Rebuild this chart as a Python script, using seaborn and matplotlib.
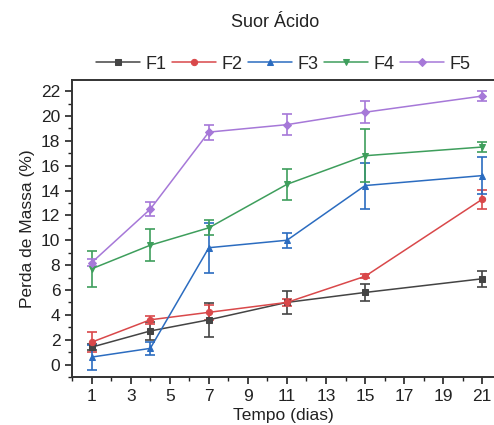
import matplotlib
matplotlib.use("Agg")
import matplotlib.pyplot as plt
import seaborn as sns
import pandas as pd
import numpy as np
from matplotlib.ticker import MultipleLocator

days = [1, 4, 7, 11, 15, 21]
series = ["F1", "F2", "F3", "F4", "F5"]
f1 = [1.4, 2.7, 3.6, 5.0, 5.8, 6.9]
f1_err = [0.25, 0.7, 1.35, 0.95, 0.7, 0.65]
f2 = [1.8, 3.6, 4.2, 5.0, 7.1, 13.3]
f2_err = [0.8, 0.3, 0.6, 0.3, 0.15, 0.75]
f3 = [0.6, 1.3, 9.4, 10.0, 14.4, 15.2]
f3_err = [1.0, 0.5, 2.0, 0.6, 1.85, 1.5]
f4 = [7.7, 9.6, 11.0, 14.5, 16.8, 17.5]
f4_err = [1.45, 1.3, 0.6, 1.25, 2.15, 0.4]
f5 = [8.2, 12.5, 18.7, 19.3, 20.3, 21.6]
f5_err = [0.3, 0.55, 0.6, 0.85, 0.9, 0.4]

values = [f1, f2, f3, f4, f5]
errors = [f1_err, f2_err, f3_err, f4_err, f5_err]
colors = ["#444444", "#d9484a", "#2b6cc0", "#3e9e5c", "#a678d8"]
markers = ["s", "o", "^", "v", "D"]

rows = []
for name, vals, errs in zip(series, values, errors):
    for d, v, e in zip(days, vals, errs):
        rows.append({"Tempo": d, "Perda": v, "err": e, "Serie": name})
df = pd.DataFrame(rows)

sns.set_theme(style="ticks")
plt.rcParams['font.family'] = ['Liberation Sans', 'DejaVu Sans']

fig = plt.figure(figsize=(4.94, 4.25), dpi=100)
ax = fig.add_axes([0.146, 0.113, 0.854, 0.699])

for name, c, m in zip(series, colors, markers):
    sub = df[df["Serie"] == name]
    ax.errorbar(sub["Tempo"], sub["Perda"], yerr=sub["err"], fmt="none",
                ecolor=c, elinewidth=1.2, capsize=3.5, capthick=1.2, zorder=2)
    sns.lineplot(data=sub, x="Tempo", y="Perda", ax=ax, color=c, marker=m,
                 markersize=4.5 if m != "D" else 4, markeredgecolor=c, linewidth=1.1, label=name,
                 zorder=3)

ax.set_xlim(0, 21.6)
ax.set_ylim(-1, 22.9)
ax.set_xticks([1, 3, 5, 7, 9, 11, 13, 15, 17, 19, 21])
ax.xaxis.set_minor_locator(MultipleLocator(1))
ax.yaxis.set_major_locator(MultipleLocator(2))
ax.yaxis.set_minor_locator(MultipleLocator(1))
ax.tick_params(axis="both", which="major", length=5, width=1.2, labelsize=12.5, color="#222222", labelcolor="#222222")
ax.tick_params(axis="both", which="minor", length=3, width=1.0, color="#222222")
for s in ["left", "bottom", "top"]:
    ax.spines[s].set_linewidth(1.4)
    ax.spines[s].set_color("#333333")
ax.spines["right"].set_visible(False)

ax.set_xlabel("Tempo (dias)", fontsize=12.5, color="#222222", labelpad=3)
ax.set_ylabel("Perda de Massa (%)", fontsize=12.5, color="#222222", labelpad=4)

leg = ax.legend(loc="lower center", bbox_to_anchor=(0.5, 1.0), ncol=5, frameon=False,
                fontsize=13, handlelength=2.45, handletextpad=0.3, columnspacing=0.3,
                borderaxespad=0.0)
fig.text(0.557, 0.946, "Suor Ácido", ha="center", va="center", fontsize=13, color="#222222")

fig.savefig("out.png", dpi=100)
